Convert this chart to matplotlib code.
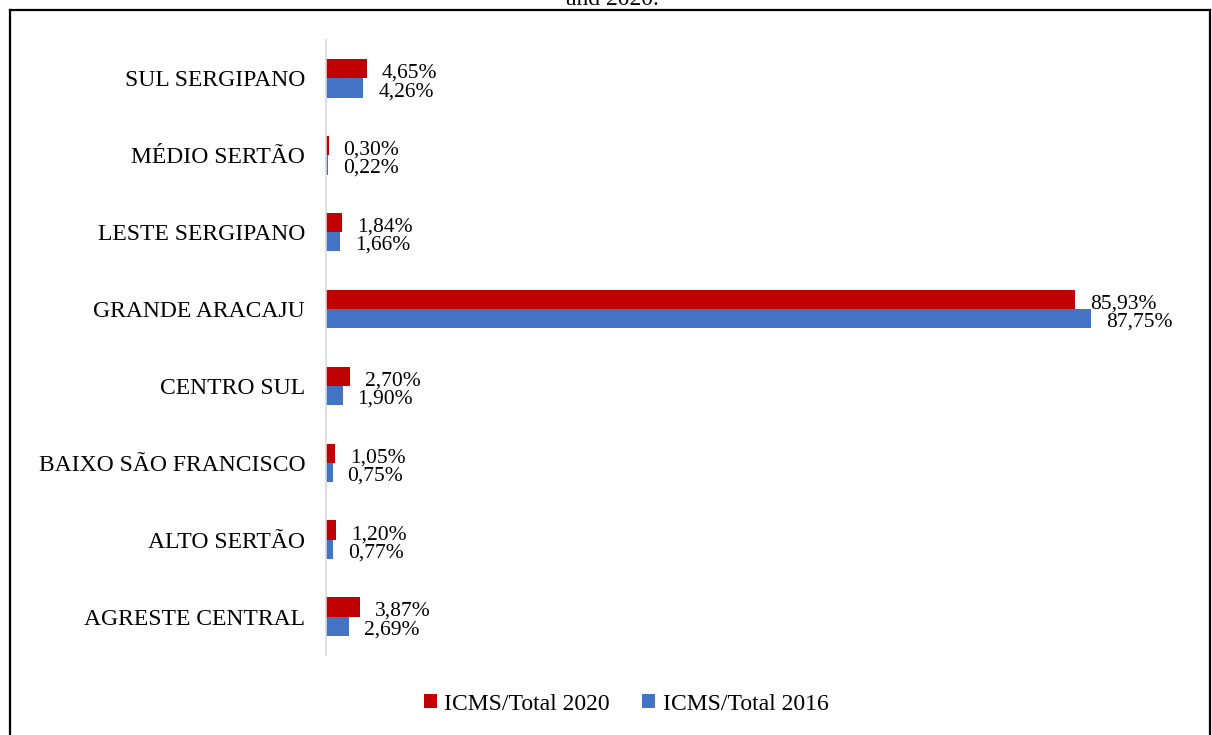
import numpy as np
import matplotlib.pyplot as plt
from matplotlib.lines import Line2D

regions = ['AGRESTE CENTRAL', 'ALTO SERTÃO', 'BAIXO SÃO FRANCISCO', 'CENTRO SUL',
           'GRANDE ARACAJU', 'LESTE SERGIPANO', 'MÉDIO SERTÃO', 'SUL SERGIPANO']
share_2020 = [3.87, 1.20, 1.05, 2.70, 85.93, 1.84, 0.30, 4.65]
share_2016 = [2.69, 0.77, 0.75, 1.90, 87.75, 1.66, 0.22, 4.26]

red = '#C00000'
blue = '#4472C4'
plt.rcParams['font.family'] = ['Liberation Serif', 'DejaVu Serif']

W, H = 1212, 735
fig = plt.figure(figsize=(W / 100, H / 100), dpi=100)
ax = fig.add_axes([326 / W, 1 - 655 / H, (1100 - 326) / W, (655 - 40) / H])

y = np.arange(len(regions))
h = 0.25
ax.barh(y + h / 2, share_2020, height=h, color=red, label='ICMS/Total 2020')
ax.barh(y - h / 2, share_2016, height=h, color=blue, label='ICMS/Total 2016')

# value labels, baseline placed so the digits sit centred on each bar
for yi, v in zip(y, share_2020):
    ax.annotate(f'{v:.2f}%'.replace('.', ','), (v, yi + h / 2), xytext=(15, -9),
                textcoords='offset pixels', va='baseline', ha='left', fontsize=15.5)
for yi, v in zip(y, share_2016):
    ax.annotate(f'{v:.2f}%'.replace('.', ','), (v, yi - h / 2), xytext=(15, -8),
                textcoords='offset pixels', va='baseline', ha='left', fontsize=15.5)

ax.set_xlim(0, (1100 - 326) / 8.72)
ax.set_ylim(-0.5, 7.5)
ax.set_yticks(y)
ax.set_yticklabels(regions, fontsize=17)
ax.tick_params(axis='y', length=0, pad=15)
ax.set_xticks([])
for s in ['top', 'right', 'bottom']:
    ax.spines[s].set_visible(False)
ax.spines['left'].set_color('#D9D9D9')
ax.spines['left'].set_linewidth(1.2)

ax.legend(loc='center', bbox_to_anchor=(626 / W, 1 - 704 / H),
          bbox_transform=fig.transFigure, ncol=2, frameon=False, fontsize=17,
          handlelength=0.55, handleheight=0.55, columnspacing=1.4, handletextpad=0.3)

# frame around the figure and the cut-off caption above it
fig.add_artist(Line2D([9.5 / W, 9.5 / W], [-0.1, 1 - 10 / H], transform=fig.transFigure,
                      color='black', lw=1.6))
fig.add_artist(Line2D([1209.5 / W, 1209.5 / W], [-0.1, 1 - 10 / H], transform=fig.transFigure,
                      color='black', lw=1.6))
fig.add_artist(Line2D([9.5 / W, 1209.5 / W], [1 - 10 / H, 1 - 10 / H], transform=fig.transFigure,
                      color='black', lw=1.6))
fig.text(612 / W, 1 - 5 / H, 'and 2020.', ha='center', va='baseline', fontsize=17)

fig.savefig('out.png', dpi=100)
